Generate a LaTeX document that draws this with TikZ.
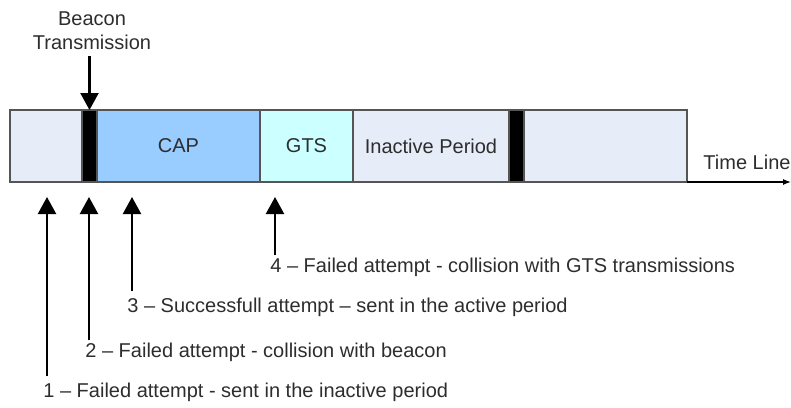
\documentclass[tikz,border=0pt]{standalone}
\usepackage{fontspec}
\setmainfont{Liberation Sans}
\usetikzlibrary{arrows.meta,positioning}
\definecolor{idlegray}{RGB}{230,236,248}
\definecolor{capblue}{RGB}{153,204,255}
\definecolor{gtscyan}{RGB}{204,255,255}
\definecolor{framegray}{RGB}{85,85,85}
\definecolor{inkgray}{RGB}{45,45,45}
\tikzset{
  slot/.style={draw=framegray,line width=0.8pt,fill=idlegray,minimum height=36pt,
               inner sep=0pt,outer sep=0pt,text=inkgray,font=\fontsize{10}{12}\selectfont},
  beaconslot/.style={slot,fill=black,minimum width=7.5pt},
  pointer/.style={-{Triangle[length=8.5pt,width=9pt]},line width=1.1pt,black},
  timeline/.style={-{Latex[length=4pt,width=3pt]},line width=0.6pt,black},
  lab/.style={inner sep=0pt,text=inkgray,font=\fontsize{10}{12}\selectfont},
}
\begin{document}
\begin{tikzpicture}[x=0.5pt,y=-0.5pt]
  \useasboundingbox (0,0) rectangle (791,407);

  % superframe
  \node[slot,minimum width=36pt,anchor=west] (pre) at (10,146) {};
  \node[beaconslot,right=0pt of pre] (bcn1) {};
  \node[slot,fill=capblue,minimum width=81.5pt,right=0pt of bcn1] (cap) {CAP};
  \node[slot,fill=gtscyan,minimum width=46.5pt,right=0pt of cap] (gts) {GTS};
  \node[slot,minimum width=78pt,right=0pt of gts] (inact) {Inactive Period};
  \node[beaconslot,right=0pt of inact] (bcn2) {};
  \node[slot,minimum width=81.5pt,right=0pt of bcn2] (post) {};

  \coordinate (tend) at (791,182);
  \draw[timeline] (post.south east) -- (tend);
  \node[lab] (tl) at (747,162) {Time Line};

  % beacon
  \node[lab,align=center] (bcnlab) at (92,31) {Beacon\\Transmission};
  \draw[pointer] (bcnlab.south -| bcn1) ++(0,6) -- (bcn1.north);

  % attempts
  \node[lab,anchor=west] (t4) at (270,267) {4 -- Failed attempt - collision with GTS transmissions};
  \node[lab,anchor=west] (t3) at (127,307) {3 -- Successfull attempt -- sent in the active period};
  \node[lab,anchor=west] (t2) at (85,352) {2 -- Failed attempt - collision with beacon};
  \node[lab,anchor=west] (t1) at (43,392) {1 -- Failed attempt - sent in the inactive period};

  \coordinate (p1) at (47,197);
  \coordinate (p2) at (89,197);
  \coordinate (p3) at (132,197);
  \coordinate (p4) at (275,197);
  \draw[pointer] (p1 |- t1.north) ++(0,-6) -- (p1);
  \draw[pointer] (p2 |- t2.north) ++(0,-2) -- (p2);
  \draw[pointer] (p3 |- t3.north) ++(0,-6) -- (p3);
  \draw[pointer] (p4 |- t4.north) ++(0,-2) -- (p4);
\end{tikzpicture}
\end{document}
